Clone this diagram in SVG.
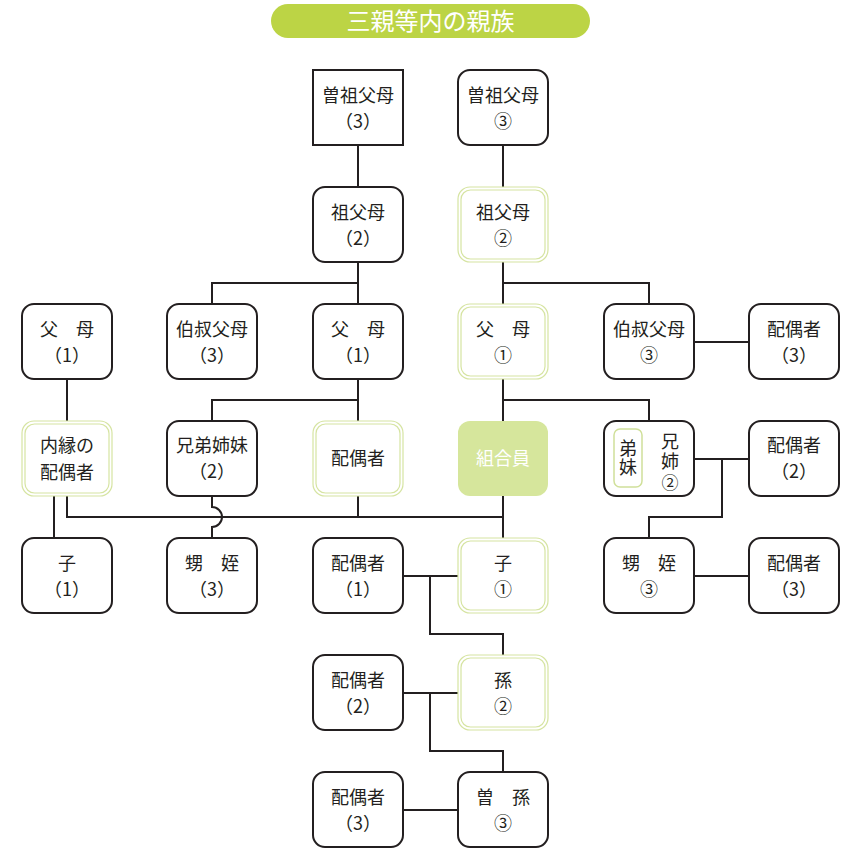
<svg xmlns="http://www.w3.org/2000/svg" width="852" height="848" viewBox="0 0 852 848">
<style>
text{font-family:"Noto Sans CJK JP","Noto Sans",sans-serif;font-size:18px;fill:#231f20;text-anchor:middle}
.vt{writing-mode:vertical-rl;text-anchor:start}
.box{fill:#fff;stroke:#231f20;stroke-width:2}
.g1{fill:#fff;stroke:#d6e4a2;stroke-width:1.2}
.g2{fill:none;stroke:#d6e4a2;stroke-width:1.2}
.w{fill:#fff}
#connectors path{fill:none;stroke:#231f20;stroke-width:2}
</style>
<rect x="0" y="0" width="852" height="848" fill="#fff"/>
<g id="title">
<rect x="271" y="4" width="319" height="34" rx="17" fill="#bcd445"/>
<text x="430.5" y="30" class="w" style="font-size:24px">三親等内の親族</text>
</g>
<g id="connectors">
<path d="M358 145V187M503 145V187"/>
<path d="M358 262V283M212 304V283H358V304"/>
<path d="M503 262V283M503 304V283H649V304"/>
<path d="M694 342H749"/>
<path d="M67 379V421"/>
<path d="M358 379V421M212 421V400H358"/>
<path d="M503 379V421M503 400H649V421"/>
<path d="M694 459H749M722 459V517H649V538"/>
<path d="M694 576H749"/>
<path d="M54 496V538"/>
<path d="M67 496V517H503"/>
<path d="M358 496V517"/>
<path d="M212 496V507A10 10 0 0 1 212 527V538"/>
<path d="M503 496V538"/>
<path d="M403 576H458M430 576V634H503V655"/>
<path d="M403 693H458M430 693V751H503V772"/>
<path d="M403 810H458"/>
</g>
<g id="n-hiso3">
<rect class="box" x="313" y="70" width="90" height="75"/>
<text x="358" y="102">曽祖父母</text><text x="358" y="128">（3）</text>
</g>
<g id="n-hiso3c">
<rect class="box" x="458" y="70" width="90" height="75" rx="12"/>
<text x="503" y="102">曽祖父母</text><text x="503" y="128">③</text>
</g>
<g id="n-sofubo2">
<rect class="box" x="313" y="187" width="90" height="75" rx="12"/>
<text x="358" y="219">祖父母</text><text x="358" y="245">（2）</text>
</g>
<g id="n-sofubo2c">
<rect class="g1" x="458" y="187" width="90" height="75" rx="12"/>
<rect class="g2" x="461" y="190" width="84" height="69" rx="9.5"/>
<text x="503" y="219">祖父母</text><text x="503" y="245">②</text>
</g>
<g id="n-fubo1a">
<rect class="box" x="22" y="304" width="90" height="75" rx="12"/>
<text x="67" y="336">父　母</text><text x="67" y="362">（1）</text>
</g>
<g id="n-oji3">
<rect class="box" x="167" y="304" width="90" height="75" rx="12"/>
<text x="212" y="336">伯叔父母</text><text x="212" y="362">（3）</text>
</g>
<g id="n-fubo1b">
<rect class="box" x="313" y="304" width="90" height="75" rx="12"/>
<text x="358" y="336">父　母</text><text x="358" y="362">（1）</text>
</g>
<g id="n-fubo1c">
<rect class="g1" x="458" y="304" width="90" height="75" rx="12"/>
<rect class="g2" x="461" y="307" width="84" height="69" rx="9.5"/>
<text x="503" y="336">父　母</text><text x="503" y="362">①</text>
</g>
<g id="n-oji3c">
<rect class="box" x="604" y="304" width="90" height="75" rx="12"/>
<text x="649" y="336">伯叔父母</text><text x="649" y="362">③</text>
</g>
<g id="n-haigu3a">
<rect class="box" x="749" y="304" width="90" height="75" rx="12"/>
<text x="794" y="336">配偶者</text><text x="794" y="362">（3）</text>
</g>
<g id="n-naien">
<rect class="g1" x="22" y="421" width="90" height="75" rx="12"/>
<rect class="g2" x="25" y="424" width="84" height="69" rx="9.5"/>
<text x="67" y="452">内縁の</text><text x="67" y="479">配偶者</text>
</g>
<g id="n-kyodai2">
<rect class="box" x="167" y="421" width="90" height="75" rx="12"/>
<text x="212" y="452">兄弟姉妹</text><text x="212" y="478">（2）</text>
</g>
<g id="n-haigu">
<rect class="g1" x="313" y="421" width="90" height="75" rx="12"/>
<rect class="g2" x="316" y="424" width="84" height="69" rx="9.5"/>
<text x="358" y="465">配偶者</text>
</g>
<g id="n-kumiai">
<rect x="458" y="421" width="90" height="75" rx="12" fill="#d6e69c"/>
<text x="503" y="465" class="w">組合員</text>
</g>
<g id="n-keishi2">
<rect class="box" x="604" y="421" width="90" height="75" rx="12"/>
<rect x="614" y="429" width="28" height="58" rx="6" fill="none" stroke="#d0e09a" stroke-width="1.5"/>
<text x="628" y="439" class="vt" style="letter-spacing:1px">弟妹</text>
<text x="670" y="432" class="vt" style="letter-spacing:2px">兄姉</text>
<text x="670" y="489" style="font-size:17px">②</text>
</g>
<g id="n-haigu2a">
<rect class="box" x="749" y="421" width="90" height="75" rx="12"/>
<text x="794" y="452">配偶者</text><text x="794" y="478">（2）</text>
</g>
<g id="n-ko1">
<rect class="box" x="22" y="538" width="90" height="75" rx="12"/>
<text x="67" y="570">子</text><text x="67" y="596">（1）</text>
</g>
<g id="n-oimei3">
<rect class="box" x="167" y="538" width="90" height="75" rx="12"/>
<text x="212" y="570">甥　姪</text><text x="212" y="596">（3）</text>
</g>
<g id="n-haigu1">
<rect class="box" x="313" y="538" width="90" height="75" rx="12"/>
<text x="358" y="570">配偶者</text><text x="358" y="596">（1）</text>
</g>
<g id="n-ko1c">
<rect class="g1" x="458" y="538" width="90" height="75" rx="12"/>
<rect class="g2" x="461" y="541" width="84" height="69" rx="9.5"/>
<text x="503" y="570">子</text><text x="503" y="596">①</text>
</g>
<g id="n-oimei3c">
<rect class="box" x="604" y="538" width="90" height="75" rx="12"/>
<text x="649" y="570">甥　姪</text><text x="649" y="596">③</text>
</g>
<g id="n-haigu3b">
<rect class="box" x="749" y="538" width="90" height="75" rx="12"/>
<text x="794" y="570">配偶者</text><text x="794" y="596">（3）</text>
</g>
<g id="n-haigu2b">
<rect class="box" x="313" y="655" width="90" height="75" rx="12"/>
<text x="358" y="687">配偶者</text><text x="358" y="713">（2）</text>
</g>
<g id="n-mago2">
<rect class="g1" x="458" y="655" width="90" height="75" rx="12"/>
<rect class="g2" x="461" y="658" width="84" height="69" rx="9.5"/>
<text x="503" y="687">孫</text><text x="503" y="713">②</text>
</g>
<g id="n-haigu3c">
<rect class="box" x="313" y="772" width="90" height="75" rx="12"/>
<text x="358" y="804">配偶者</text><text x="358" y="830">（3）</text>
</g>
<g id="n-himago3">
<rect class="box" x="458" y="772" width="90" height="75" rx="12"/>
<text x="503" y="804">曽　孫</text><text x="503" y="830">③</text>
</g>
</svg>
